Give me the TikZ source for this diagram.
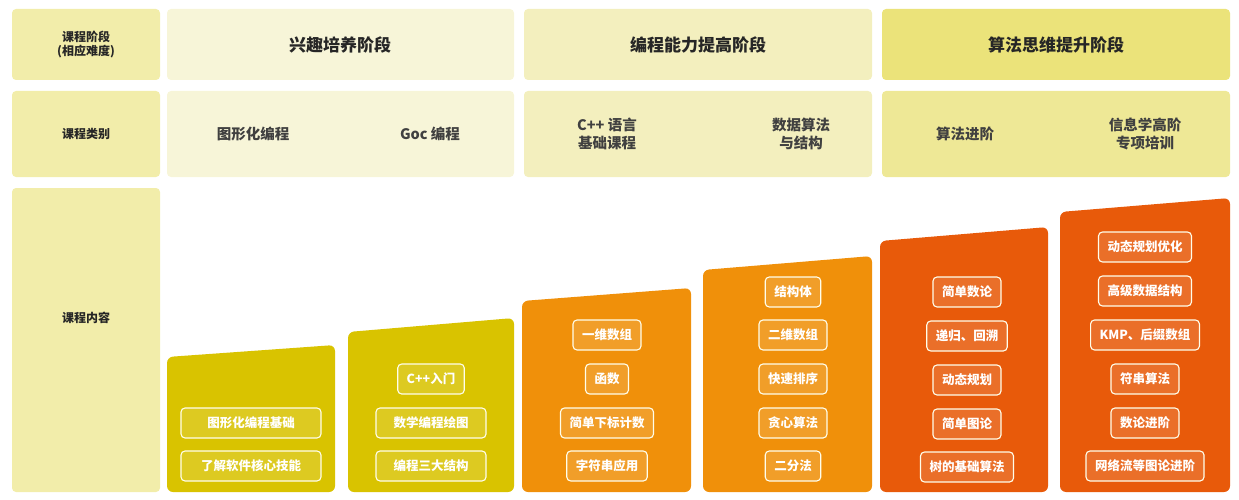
\documentclass[tikz,border=0pt]{standalone}
\usepackage{fontspec}
\setmainfont{Noto Sans CJK SC}
\begin{document}
\begin{tikzpicture}[x=1pt,y=-1pt,
 cell/.style={rounded corners=4pt,draw=none},
 lab/.style={font=\bfseries\fontsize{12}{14}\selectfont,align=center,text=black!85},
 head/.style={font=\bfseries\fontsize{17}{20}\selectfont,text=black!85},
 cat/.style={font=\bfseries\fontsize{14.5}{18}\selectfont,align=center,text=black!75},
 item/.style={draw=white!92!yellow,line width=1.1pt,rounded corners=4pt,fill=white,fill opacity=0.13,text opacity=1,text=white,font=\bfseries\fontsize{12.5}{15}\selectfont,minimum height=30pt,inner xsep=9pt}]
\definecolor{lc}{HTML}{F2EDAA}
\definecolor{s1}{HTML}{F7F5D8}
\definecolor{s2}{HTML}{F3EFBE}
\definecolor{s3}{HTML}{EBE37A}
\definecolor{r3}{HTML}{EEE896}
\definecolor{cy}{HTML}{D9C300}
\definecolor{co}{HTML}{F0900A}
\definecolor{cr}{HTML}{E85A0A}
\useasboundingbox (0,0) rectangle (1239,500);
% label column
\fill[lc,cell] (12,9) rectangle (160,80);
\fill[lc,cell] (12,91) rectangle (160,177);
\fill[lc,cell] (12,188) rectangle (160,492);
\node[lab] (l1) at (86,45) {课程阶段\\(相应难度)};
\node[lab] (l2) at (86,134) {课程类别};
\node[lab] (l3) at (86,318) {课程内容};
% row 1
\fill[s1,cell] (167,9) rectangle (514,80);
\fill[s2,cell] (524,9) rectangle (872,80);
\fill[s3,cell] (882,9) rectangle (1230,80);
\node[head] (h1) at (340,45) {兴趣培养阶段};
\node[head] (h2) at (698,45) {编程能力提高阶段};
\node[head] (h3) at (1056,45) {算法思维提升阶段};
% row 2
\fill[s1,cell] (167,91) rectangle (514,177);
\fill[s2,cell] (524,91) rectangle (872,177);
\fill[r3,cell] (882,91) rectangle (1230,177);
\node[cat] (c1) at (253,134) {图形化编程};
\node[cat] (c2) at (430,134) {Goc 编程};
\node[cat] (c3) at (607,134) {C++ 语言\\基础课程};
\node[cat] (c4) at (801,134) {数据算法\\与结构};
\node[cat] (c5) at (965,134) {算法进阶};
\node[cat] (c6) at (1145,134) {信息学高阶\\专项培训};
% bars
\fill[cy,rounded corners=6pt] (167,492) -- (167,357) -- (335,345) -- (335,492) -- cycle;
\fill[cy,rounded corners=6pt] (348,492) -- (348,332) -- (514,318) -- (514,492) -- cycle;
\fill[co,rounded corners=6pt] (522,492) -- (522,301) -- (691,288) -- (691,492) -- cycle;
\fill[co,rounded corners=6pt] (703,492) -- (703,270) -- (872,256) -- (872,492) -- cycle;
\fill[cr,rounded corners=6pt] (880,492) -- (880,241) -- (1048,227) -- (1048,492) -- cycle;
\fill[cr,rounded corners=6pt] (1060,492) -- (1060,212) -- (1230,198) -- (1230,492) -- cycle;
% items
\node[item,minimum width=140pt] (a1) at (251,423) {图形化编程基础};
\node[item,minimum width=140pt] (a2) at (251,466) {了解软件核心技能};
\node[item] (b1) at (431,379) {C++入门};
\node[item,minimum width=110pt] (b2) at (431,423) {数学编程绘图};
\node[item,minimum width=110pt] (b3) at (431,466) {编程三大结构};
\node[item] (d1) at (607,335) {一维数组};
\node[item] (d2) at (607,379) {函数};
\node[item] (d3) at (607,423) {简单下标计数};
\node[item] (d4) at (607,466) {字符串应用};
\node[item] (e1) at (793,292) {结构体};
\node[item] (e2) at (793,335) {二维数组};
\node[item] (e3) at (793,379) {快速排序};
\node[item] (e4) at (793,423) {贪心算法};
\node[item] (e5) at (793,466) {二分法};
\node[item] (f1) at (967,292) {简单数论};
\node[item] (f2) at (967,336) {递归、回溯};
\node[item] (f3) at (967,380) {动态规划};
\node[item] (f4) at (967,424) {简单图论};
\node[item] (f5) at (967,467) {树的基础算法};
\node[item] (g1) at (1145,247) {动态规划优化};
\node[item] (g2) at (1145,291) {高级数据结构};
\node[item] (g3) at (1145,335) {KMP、后缀数组};
\node[item] (g4) at (1145,379) {符串算法};
\node[item] (g5) at (1145,423) {数论进阶};
\node[item] (g6) at (1145,466) {网络流等图论进阶};
\end{tikzpicture}
\end{document}
